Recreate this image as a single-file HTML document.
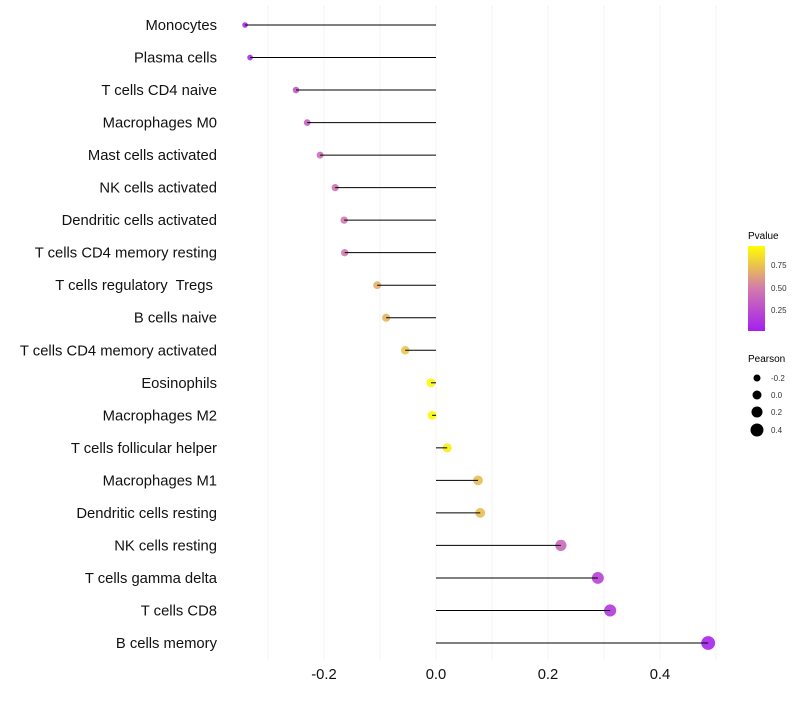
<!DOCTYPE html>
<html><head><meta charset="utf-8"><style>
body{margin:0;background:#fff;font-family:"Liberation Sans",sans-serif}
</style></head><body>
<svg id="chart" width="800" height="700" xmlns="http://www.w3.org/2000/svg" style="font-family:'Liberation Sans',sans-serif">
<defs><linearGradient id="pg" x1="0" y1="1" x2="0" y2="0">
<stop offset="0" stop-color="#a51ff0"/><stop offset="0.5" stop-color="#d27aad"/><stop offset="1" stop-color="#ffff00"/></linearGradient></defs>
<g id="grid"></g>
<g id="marks"></g>
<g id="ylabels"></g>
<g id="xlabels"></g>
<g>
<text x="748" y="239" font-size="10">Pvalue</text>
<rect x="748" y="246" width="17" height="85" fill="url(#pg)"/>
<g font-size="8" fill="#333">
<text x="771" y="268">0.75</text><text x="771" y="291">0.50</text><text x="771" y="313">0.25</text></g>
</g>
<g>
<text x="748" y="362" font-size="10">Pearson</text>
<circle cx="757" cy="378" r="3.5"/><circle cx="757" cy="395" r="4.5"/><circle cx="757" cy="412" r="5.5"/><circle cx="757" cy="430" r="6.5"/>
<g font-size="8" fill="#333"><text x="771" y="381">-0.2</text><text x="771" y="398">0.0</text><text x="771" y="415">0.2</text><text x="771" y="433">0.4</text></g>
</g>
</svg>
<script>
const categories=["Monocytes","Plasma cells","T cells CD4 naive","Macrophages M0","Mast cells activated","NK cells activated","Dendritic cells activated","T cells CD4 memory resting","T cells regulatory  Tregs ","B cells naive","T cells CD4 memory activated","Eosinophils","Macrophages M2","T cells follicular helper","Macrophages M1","Dendritic cells resting","NK cells resting","T cells gamma delta","T cells CD8","B cells memory"];
const pearson=[-0.341,-0.332,-0.25,-0.23,-0.207,-0.18,-0.164,-0.163,-0.105,-0.089,-0.055,-0.009,-0.007,0.02,0.075,0.079,0.223,0.289,0.311,0.486];
const pvalues=[0.05,0.07,0.3,0.35,0.42,0.45,0.5,0.5,0.7,0.72,0.78,0.97,0.97,0.93,0.75,0.75,0.4,0.2,0.15,0.03];
const xTicks=[-0.2,0.0,0.2,0.4];
const xTickLabels=["-0.2","0.0","0.2","0.4"];
const xGrid=[-0.3,-0.2,-0.1,0,0.1,0.2,0.3,0.4,0.5];
const NS="http://www.w3.org/2000/svg";
const xs=v=>436+v*560;
const ys=i=>25+i*(618/19);
const rs=v=>Math.max(2,4.5+5*v);
function lerp(a,b,t){return a.map((c,k)=>Math.round(c+(b[k]-c)*t));}
function col(p){const s=[[165,31,240],[210,122,173],[255,255,0]];const c=p<0.5?lerp(s[0],s[1],p/0.5):lerp(s[1],s[2],(p-0.5)/0.5);return `rgb(${c})`;}
function mk(t,a,parent){const e=document.createElementNS(NS,t);for(const k in a)e.setAttribute(k,a[k]);parent.appendChild(e);return e;}
const grid=document.getElementById('grid'),marks=document.getElementById('marks'),yl=document.getElementById('ylabels'),xl=document.getElementById('xlabels');
xGrid.forEach(v=>{const l=mk('line',{x1:xs(v),x2:xs(v),y1:5,y2:660,stroke:'#f3f3f3','stroke-width':1},grid);

});
categories.forEach((c,i)=>{
const y=ys(i);
const d=mk('circle',{cx:xs(pearson[i]),cy:y,r:rs(pearson[i]),fill:col(pvalues[i]),'fill-opacity':0.9},marks);


const s=mk('line',{x1:xs(0),x2:xs(pearson[i]),y1:y,y2:y,stroke:'#000','stroke-width':1},marks);


const t=mk('text',{x:217,y:y+5,'text-anchor':'end','font-size':14.8,fill:'#111',style:'white-space:pre'},yl);
t.textContent=c;


});
xTicks.forEach((v,i)=>{const t=mk('text',{x:xs(v),y:679,'text-anchor':'middle','font-size':14.8,fill:'#111'},xl);
t.textContent=xTickLabels[i];

});
</script>
</body></html>
